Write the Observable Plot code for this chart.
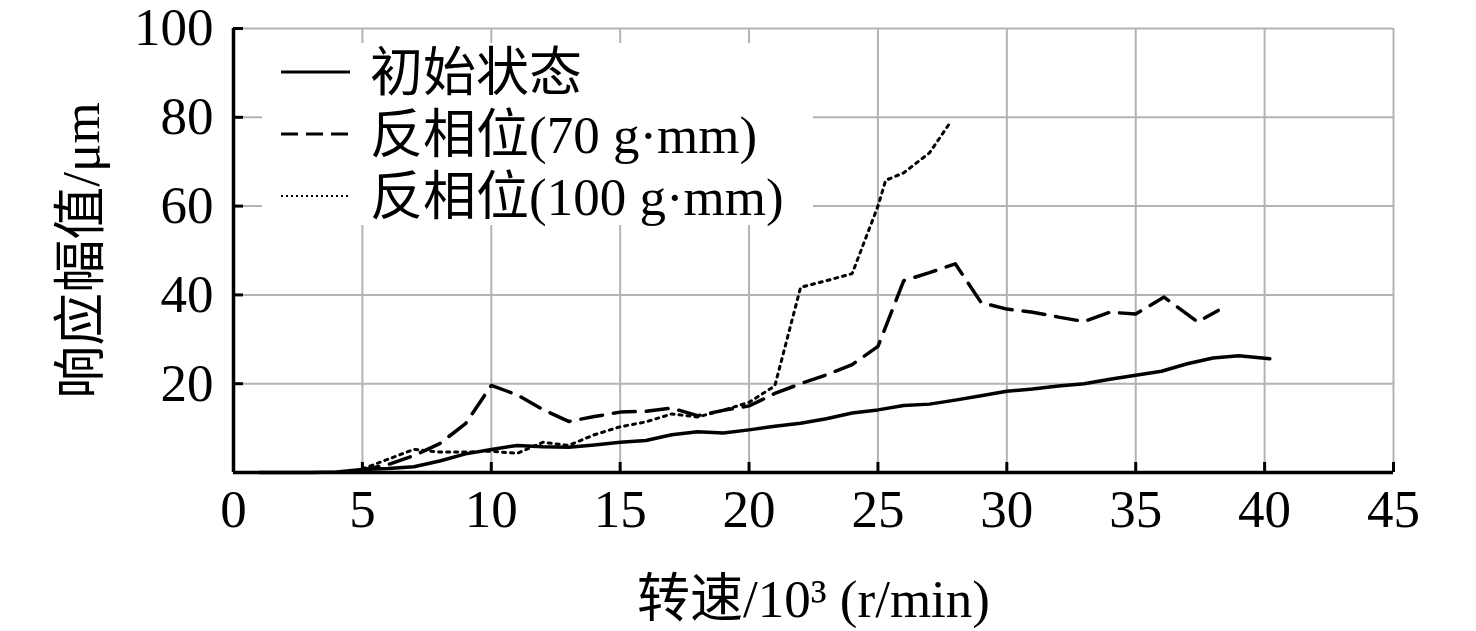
<!DOCTYPE html>
<html><head><meta charset="utf-8">
<script src="https://cdn.jsdelivr.net/npm/d3@7"></script>
<script src="https://cdn.jsdelivr.net/npm/@observablehq/plot@0.6"></script>
<style>
body{margin:0;background:#fff;}
#wrap{position:relative;width:1476px;height:631px;overflow:hidden;}
#legend{position:absolute;left:262px;top:43px;width:551px;height:182px;background:#fff;}
#legend svg{overflow:visible;}
</style></head><body><div id="wrap"></div>
<script>
// ---- data ----
const seriesNames = ["初始状态", "反相位(70 g·mm)", "反相位(100 g·mm)"];

const xInitial = [1,2,3,4,5,6,7,8,9,10,11,12,13,14,15,16,17,18,19,20,21,22,23,24,25,26,27,28,29,30,31,32,33,34,35,36,37,38,39,40.2];
const yInitial = [0,0,0,0.1,0.7,0.9,1.3,2.6,4.2,5.2,6.1,5.8,5.7,6.2,6.8,7.2,8.5,9.2,8.9,9.6,10.4,11.1,12.1,13.4,14.1,15.1,15.4,16.3,17.3,18.3,18.8,19.5,20.0,21.0,21.9,22.8,24.5,25.8,26.3,25.6];

const x70 = [4.8,6,7,8,9,10,11,12,13,14,15,16,17,18,19,20,21,22,23,24,25,26,27,28,29,30,31,32,33,34,35,36.1,37.4,38.2];
const y70 = [0.3,1.8,3.8,6.5,11,19.6,17.5,14.2,11.5,12.6,13.6,13.8,14.5,12.8,14,15,17.8,20,22,24.3,28.4,43.2,45,47,38.3,36.8,36.1,35,34,36.1,35.7,39.5,33.9,36.5];

const x100 = [5,6,7,8,9,10,11,12,13,14,15,16,17,18,19,20,21,22,23,24,25,25.3,26,27,27.8];
const y100 = [0.8,3,5.2,4.6,4.6,4.8,4.3,6.8,6.1,8.5,10.3,11.4,13.2,12.5,14,15.8,19.5,41.7,43.2,44.8,60,65.8,67.5,72,78.8];

const xTicks = [0,5,10,15,20,25,30,35,40,45];
const yTicks = [20,40,60,80,100];
const xLabel = "转速/10³ (r/min)";
const yLabel = "响应幅值/μm";

// ---- styles ----
const font = "'Liberation Serif','Noto Sans CJK SC',serif";
const styles = [
  {stroke:"#000", width:3.5, dash:null, legendDash:null, legendWidth:3},
  {stroke:"#000", width:3.5, dash:"22 11", legendDash:"17 8", legendWidth:3},
  {stroke:"#000", width:3, dash:"3 5", legendDash:"2 3", legendWidth:2}
];

const toRows = (xs, ys) => xs.map((x, i) => ({x, y: ys[i]}));
const series = [toRows(xInitial, yInitial), toRows(x70, y70), toRows(x100, y100)];

const W = 1476, H = 631, mL = 233, mR = 83, mT = 28, mB = 159;
const plotW = W - mL - mR, plotH = H - mT - mB;

const chart = Plot.plot({
  width: W, height: H,
  marginLeft: mL, marginRight: mR, marginTop: mT, marginBottom: mB,
  style: {fontFamily: font, fontSize: "53px", color: "#000", background: "#fff", overflow: "visible"},
  x: {domain: [0, 45]},
  y: {domain: [0, 100]},
  marks: [
    Plot.gridX(xTicks.slice(1), {stroke: "#b3b3b3", strokeOpacity: 1, strokeWidth: 2}),
    Plot.gridY(yTicks, {stroke: "#b3b3b3", strokeOpacity: 1, strokeWidth: 2}),
    ...series.map((d, i) => Plot.line(d, {
      x: "x", y: "y", stroke: styles[i].stroke, strokeWidth: styles[i].width,
      strokeDasharray: styles[i].dash, strokeLinejoin: "round"
    })),
    Plot.ruleY([0], {stroke: "#000", strokeWidth: 3.5}),
    Plot.ruleX([0], {stroke: "#000", strokeWidth: 3.5}),
    Plot.tickX(xTicks.slice(1), {x: d => d, insetTop: plotH - 10, stroke: "#000", strokeWidth: 3}),
    Plot.tickY(yTicks, {y: d => d, insetRight: plotW - 10, stroke: "#000", strokeWidth: 3}),
    Plot.axisX({ticks: xTicks, tickSize: 0, tickPadding: 17, tickFormat: d => String(d),
      label: xLabel, labelAnchor: "center", labelArrow: "none", labelOffset: 144}),
    Plot.axisY({ticks: yTicks, tickSize: 0, tickPadding: 20, tickFormat: d => String(d),
      label: yLabel, labelAnchor: "center", labelArrow: "none", labelOffset: 172})
  ]
});

const wrap = document.getElementById("wrap");
wrap.appendChild(chart);

// ---- legend overlay ----
const legend = document.createElement("div");
legend.id = "legend";
wrap.appendChild(legend);
const lsvg = d3.select(legend).append("svg").attr("width", 551).attr("height", 182)
  .style("font-family", font).style("font-size", "53px");
const rowY = [29, 91, 153];
seriesNames.forEach((name, i) => {
  const g = lsvg.append("g").attr("transform", `translate(0,${rowY[i]})`);
  g.append("line").attr("x1", 19).attr("x2", 88).attr("y1", 0).attr("y2", 0)
    .attr("stroke", "#000").attr("stroke-width", styles[i].legendWidth)
    .attr("stroke-dasharray", styles[i].legendDash);
  g.append("text").attr("x", 108).attr("y", 0).attr("dy", "0.36em").text(name);
});
</script></body></html>
